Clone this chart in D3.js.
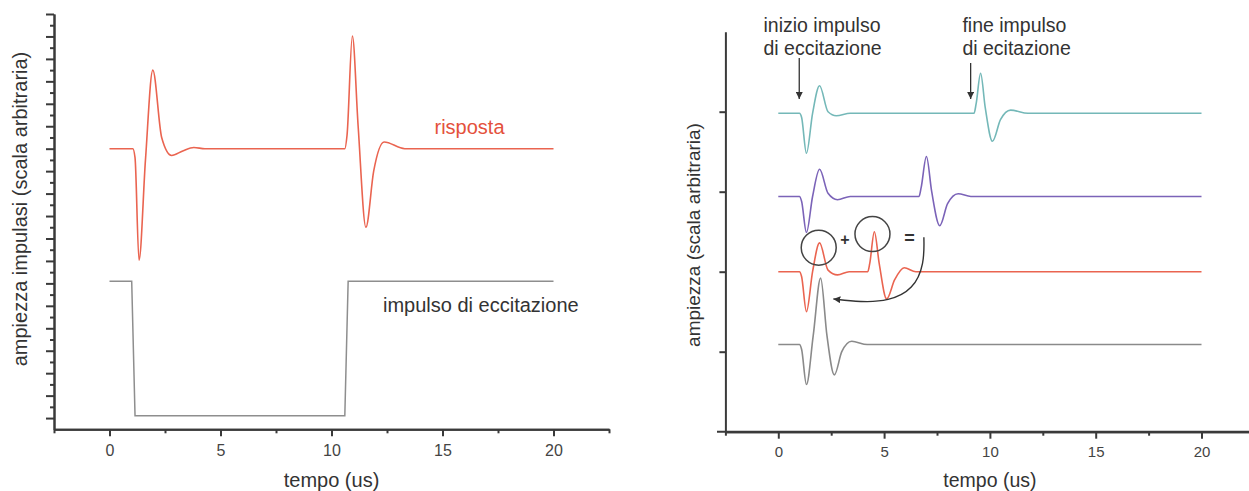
<!DOCTYPE html>
<html>
<head>
<meta charset="utf-8">
<script src="https://cdn.jsdelivr.net/npm/d3@7"></script>
<style>
  body { margin: 0; background: #fff; }
  text { font-family: "Liberation Sans", Arial, sans-serif; }
</style>
</head>
<body>
<svg id="chart" width="1249" height="491"></svg>
<script>
// --- left panel: response to the excitation pulse
var rispostaT = [0, 1.05, 1.15, 1.33, 1.62, 1.95, 2.35, 2.8, 3.3, 3.8, 4.3, 10.6, 10.7, 10.94, 11.2, 11.55, 11.9, 12.37, 13.3, 20];
var rispostaV = [12, 12, 11.6, 7.03, 11.5, 15.5, 12.5, 11.7, 11.9, 12.05, 12, 12, 12.6, 17.02, 13, 8.5, 11, 12.3, 12, 12];
var impulsoT = [0, 1.0, 1.15, 10.6, 10.75, 20];
var impulsoV = [6.1, 6.1, 0.1, 0.1, 6.1, 6.1];

// --- right panel: four stacked traces
var cianoT = [0, 1.0, 1.1, 1.33, 1.62, 1.95, 2.35, 2.74, 3.4, 9.25, 9.35, 9.56, 9.78, 10.12, 10.5, 10.98, 11.8, 20];
var cianoV = [3.98, 3.98, 3.93, 3.48, 3.98, 4.325, 4.0, 3.95, 3.98, 3.98, 4.1, 4.48, 4.05, 3.63, 3.9, 4.02, 3.98, 3.98];
var violaT = [0, 1.0, 1.1, 1.33, 1.62, 1.95, 2.35, 2.8, 3.4, 6.65, 6.75, 7.0, 7.25, 7.63, 8.0, 8.5, 9.1, 20];
var violaV = [2.94, 2.94, 2.88, 2.49, 2.94, 3.28, 2.98, 2.9, 2.94, 2.94, 3.05, 3.44, 3.0, 2.575, 2.85, 2.975, 2.94, 2.94];
var rossoT = [0, 1.0, 1.1, 1.33, 1.62, 1.95, 2.35, 2.8, 3.35, 4.23, 4.32, 4.54, 4.77, 5.12, 5.5, 5.95, 6.5, 20];
var rossoV = [2, 2, 1.94, 1.5, 2.0, 2.36, 2.02, 1.96, 2.0, 2.0, 2.1, 2.5, 2.1, 1.66, 1.9, 2.05, 2.0, 2.0];
var grigioT = [0, 1.0, 1.1, 1.33, 1.65, 2.0, 2.3, 2.65, 3.0, 3.47, 4.2, 20];
var grigioV = [1.09, 1.09, 1.03, 0.59, 1.2, 1.92, 1.2, 0.71, 1.0, 1.13, 1.09, 1.09];

var xTicks = [0, 5, 10, 15, 20];
var xMinor = [-2.5, 2.5, 7.5, 12.5, 17.5, 22.5];
var leftMajor = d3.range(0, 19);
var leftMinor = d3.range(0.5, 18, 1);
var rightTicks = [1, 2, 3, 4];

var svg = d3.select('#chart');
var axisColor = '#3a3a3a';

function zip(t, v) {
    return t.map(function (d, i) { return [d, v[i]]; });
}

function styleAxis(g) {
    g.selectAll('path, line').attr('stroke', axisColor).attr('stroke-width', 2);
    g.selectAll('text').attr('fill', '#444').style('font-family', '"Liberation Sans", Arial, sans-serif');
}

// ================= LEFT =================
var xL = d3.scaleLinear().domain([-2.5, 22.5]).range([54, 609]);
var yL = d3.scaleLinear().domain([-0.5, 18]).range([429.3, 14]);

var left = svg.append('g');

left.append('g').attr('transform', 'translate(0,' + yL(-0.5) + ')')
    .call(d3.axisBottom(xL).tickValues(xMinor).tickSize(4).tickFormat('').tickSizeOuter(0))
    .call(styleAxis);
left.append('g').attr('transform', 'translate(0,' + yL(-0.5) + ')')
    .call(d3.axisBottom(xL).tickValues(xTicks).tickSize(7).tickPadding(8).tickSizeOuter(0))
    .call(styleAxis)
    .selectAll('text').style('font-size', '16px');
left.append('g').attr('transform', 'translate(' + xL(-2.5) + ',0)')
    .call(d3.axisLeft(yL).tickValues(leftMinor).tickSize(4).tickFormat('').tickSizeOuter(0))
    .call(styleAxis);
left.append('g').attr('transform', 'translate(' + xL(-2.5) + ',0)')
    .call(d3.axisLeft(yL).tickValues(leftMajor).tickSize(8).tickFormat('').tickSizeOuter(0))
    .call(styleAxis);

var lineL = d3.line().x(function (d) { return xL(d[0]); }).y(function (d) { return yL(d[1]); });

left.append('path').datum(zip(impulsoT, impulsoV))
    .attr('d', lineL.curve(d3.curveLinear))
    .attr('fill', 'none').attr('stroke', '#8e8e8e').attr('stroke-width', 1.5);
left.append('path').datum(zip(rispostaT, rispostaV))
    .attr('d', lineL.curve(d3.curveMonotoneX))
    .attr('fill', 'none').attr('stroke', '#ea6450').attr('stroke-width', 1.6);

left.append('text').attr('x', xL(14.64)).attr('y', 133.5)
    .attr('fill', '#e4513c').style('font-size', '20px').text('risposta');
left.append('text').attr('x', xL(12.32)).attr('y', 311.5)
    .attr('fill', '#333').style('font-size', '20px').text('impulso di eccitazione');
left.append('text').attr('x', xL(10)).attr('y', 487).attr('text-anchor', 'middle')
    .attr('fill', '#333').style('font-size', '20px').text('tempo (us)');
left.append('text').attr('transform', 'translate(27,209) rotate(-90)').attr('text-anchor', 'middle')
    .attr('fill', '#333').style('font-size', '20px').text('ampiezza impulasi (scala arbitraria)');

// ================= RIGHT =================
var xR = d3.scaleLinear().domain([-2.5, 22.5]).range([725.4, 1254.4]);
var yR = d3.scaleLinear().domain([0, 5]).range([431.7, 31.7]);

var right = svg.append('g');

right.append('line').attr('x1', 717).attr('x2', 1249).attr('y1', yR(0)).attr('y2', yR(0))
    .attr('stroke', axisColor).attr('stroke-width', 2);
right.append('g').attr('transform', 'translate(0,' + yR(0) + ')')
    .call(d3.axisBottom(xR).tickValues(xMinor).tickSize(4).tickFormat('').tickSizeOuter(0))
    .call(styleAxis);
right.append('g').attr('transform', 'translate(0,' + yR(0) + ')')
    .call(d3.axisBottom(xR).tickValues(xTicks).tickSize(7).tickPadding(8).tickSizeOuter(0))
    .call(styleAxis)
    .selectAll('text').style('font-size', '15px');
right.append('g').attr('transform', 'translate(' + xR(-2.5) + ',0)')
    .call(d3.axisLeft(yR).tickValues(rightTicks).tickSize(6).tickFormat('').tickSizeOuter(0))
    .call(styleAxis);

var lineR = d3.line().x(function (d) { return xR(d[0]); }).y(function (d) { return yR(d[1]); })
    .curve(d3.curveMonotoneX);

var traces = [
    { t: cianoT, v: cianoV, c: '#74b8b8' },
    { t: violaT, v: violaV, c: '#7b63b8' },
    { t: rossoT, v: rossoV, c: '#ea6450' },
    { t: grigioT, v: grigioV, c: '#8a8a8a' }
];
traces.forEach(function (s) {
    right.append('path').datum(zip(s.t, s.v))
        .attr('d', lineR)
        .attr('fill', 'none').attr('stroke', s.c).attr('stroke-width', 1.6);
});

// arrow marker
svg.append('defs').append('marker')
    .attr('id', 'head').attr('viewBox', '0 0 10 10').attr('refX', 10).attr('refY', 5)
    .attr('markerWidth', 7).attr('markerHeight', 7).attr('markerUnits', 'userSpaceOnUse')
    .attr('orient', 'auto')
    .append('path').attr('d', 'M0,0 L10,5 L0,10 z').attr('fill', '#333');

// annotations
right.append('text').attr('x', xR(-0.7)).attr('y', 31.7).attr('fill', '#333').style('font-size', '19.5px').text('inizio impulso');
right.append('text').attr('x', xR(-0.7)).attr('y', 55).attr('fill', '#333').style('font-size', '19.5px').text('di eccitazione');
right.append('text').attr('x', xR(8.7)).attr('y', 31.7).attr('fill', '#333').style('font-size', '19.5px').text('fine impulso');
right.append('text').attr('x', xR(8.7)).attr('y', 55).attr('fill', '#333').style('font-size', '19.5px').text('di ecitazione');

right.append('line').attr('x1', xR(0.99)).attr('x2', xR(0.99)).attr('y1', 58).attr('y2', 99)
    .attr('stroke', '#333').attr('stroke-width', 1.3).attr('marker-end', 'url(#head)');
right.append('line').attr('x1', xR(9.09)).attr('x2', xR(9.09)).attr('y1', 63).attr('y2', 99)
    .attr('stroke', '#333').attr('stroke-width', 1.3).attr('marker-end', 'url(#head)');

right.append('circle').attr('cx', xR(1.91)).attr('cy', yR(2.30)).attr('r', 17.5)
    .attr('fill', 'none').attr('stroke', '#444').attr('stroke-width', 1.5);
right.append('circle').attr('cx', xR(4.45)).attr('cy', yR(2.47)).attr('r', 17.5)
    .attr('fill', 'none').attr('stroke', '#444').attr('stroke-width', 1.5);
right.append('text').attr('x', xR(3.15)).attr('y', yR(2.41)).attr('dy', '0.35em').attr('text-anchor', 'middle')
    .attr('fill', '#333').style('font-size', '16px').style('font-weight', 'bold').text('+');
right.append('text').attr('x', xR(6.2)).attr('y', yR(2.43)).attr('dy', '0.35em').attr('text-anchor', 'middle')
    .attr('fill', '#333').style('font-size', '18px').style('font-weight', 'bold').text('=');

var arc = [[6.88, 2.43], [6.9, 2.1], [6.4, 1.78], [5.2, 1.63], [3.9, 1.62], [2.6, 1.66]];
right.append('path').datum(arc)
    .attr('d', d3.line().x(function (d) { return xR(d[0]); }).y(function (d) { return yR(d[1]); }).curve(d3.curveBasis))
    .attr('fill', 'none').attr('stroke', '#333').attr('stroke-width', 1.4).attr('marker-end', 'url(#head)');

right.append('text').attr('x', xR(10)).attr('y', 487).attr('text-anchor', 'middle')
    .attr('fill', '#333').style('font-size', '19.5px').text('tempo (us)');
right.append('text').attr('transform', 'translate(700,235) rotate(-90)').attr('text-anchor', 'middle')
    .attr('fill', '#333').style('font-size', '19px').text('ampiezza (scala arbitraria)');
</script>
</body>
</html>
